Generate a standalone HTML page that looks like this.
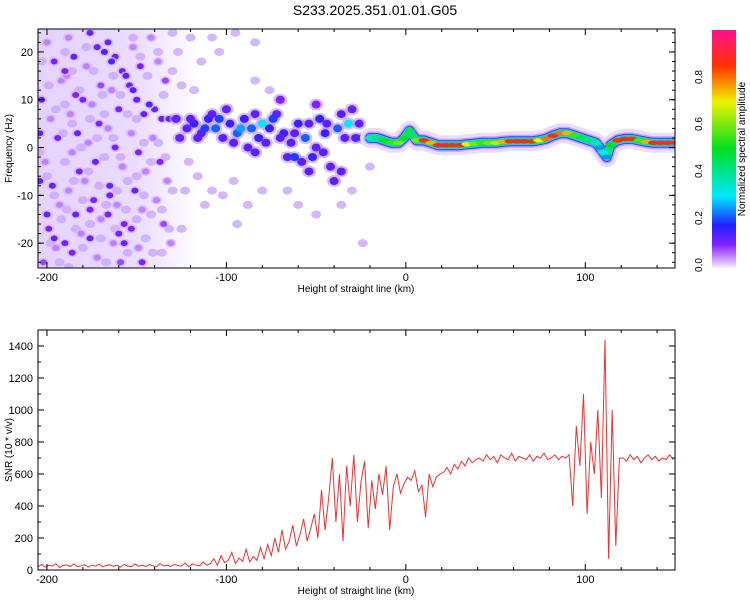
<!DOCTYPE html>
<html><head><meta charset="utf-8">
<style>
body{margin:0;background:#fff;font-family:"Liberation Sans",sans-serif;}
svg text{font-family:"Liberation Sans",sans-serif;font-size:11px;fill:#000;}
</style></head>
<body>
<svg id="chart" width="750" height="600" xmlns="http://www.w3.org/2000/svg">
<defs>
<clipPath id="c1"><rect x="38" y="29" width="637" height="239"/></clipPath>
<clipPath id="c2"><rect x="38" y="330" width="637" height="240"/></clipPath>
<linearGradient id="cbg" x1="0" y1="1" x2="0" y2="0">
<stop offset="0" stop-color="#f6eeff"/><stop offset="0.05" stop-color="#c080ff"/><stop offset="0.1" stop-color="#8020ff"/>
<stop offset="0.18" stop-color="#2020ff"/><stop offset="0.3" stop-color="#00e8ff"/><stop offset="0.5" stop-color="#00e020"/>
<stop offset="0.7" stop-color="#f0f000"/><stop offset="0.85" stop-color="#ff3000"/><stop offset="1" stop-color="#ff1090"/>
</linearGradient>
<linearGradient id="noiseg" x1="0" y1="0" x2="1" y2="0">
<stop offset="0" stop-color="#dcc4ff" stop-opacity="0.75"/><stop offset="0.6" stop-color="#dcc4ff" stop-opacity="0.6"/><stop offset="1" stop-color="#dcc4ff" stop-opacity="0"/>
</linearGradient>
</defs>
<text x="375" y="15" text-anchor="middle" style="font-size:14px">S233.2025.351.01.01.G05</text>
<g id="topPanel"></g>
<g id="botPanel"></g>
<g id="cb">
<rect x="712" y="30" width="24" height="238" fill="url(#cbg)"/>
</g>
</svg>
<script>
// ---- data ----
const snrStart = -205, snrStep = 2;
const snrValues = [20,35,18,30,25,40,15,28,32,22,38,20,26,34,18,30,24,36,20,28,33,22,30,18,35,25,20,38,24,30,22,34,26,20,40,25,30,22,35,28,24,45,20,38,30,26,50,30,
40,70,30,90,45,60,110,40,75,55,130,50,85,60,140,
70,160,90,200,110,250,130,180,280,150,220,320,180,260,350,
200,500,250,450,700,300,600,180,650,400,720,300,550,680,260,
560,380,600,470,650,250,520,600,480,540,
580,560,620,490,530,330,600,520,580,600,
610,640,600,660,630,680,650,700,670,690,
700,680,720,690,710,670,720,700,690,730,680,710,700,690,720,680,710,700,730,690,700,720,690,710,700,
720,400,900,650,1100,350,800,600,1000,450,1440,70,1000,150,700,
700,680,720,690,710,670,700,720,690,710,680,700,690,720,690];
const scatterBlobs = [
[-200,22,0.05],[-196,18,0.1],[-192,14,0.05],[-203,10,0.12],[-198,6,0.05],[-194,2,0.1],[-201,-3,0.05],[-197,-8,0.12],[-193,-12,0.05],[-199,-17,0.1],[-195,-21,0.05],[-202,-24,0.08],
[-188,23,0.05],[-185,19,0.12],[-189,15,0.05],[-184,11,0.1],[-187,7,0.05],[-183,3,0.12],[-186,-1,0.05],[-182,-5,0.1],[-188,-9,0.05],[-184,-14,0.12],[-181,-18,0.05],[-186,-22,0.1],
[-176,24,0.12],[-172,21,0.12],[-178,17,0.05],[-170,13,0.08],[-175,9,0.05],[-171,5,0.1],[-177,1,0.05],[-173,-3,0.12],[-179,-7,0.05],[-174,-11,0.1],[-170,-15,0.05],[-176,-19,0.12],[-172,-23,0.05],
[-166,22,0.12],[-162,19,0.12],[-158,16,0.12],[-164,12,0.05],[-160,8,0.1],[-166,4,0.05],[-162,0,0.1],[-158,-4,0.05],[-165,-8,0.12],[-161,-12,0.05],[-157,-16,0.1],[-163,-20,0.05],[-159,-24,0.08],
[-154,13,0.12],[-150,10,0.12],[-146,7,0.12],[-152,21,0.05],[-148,17,0.1],[-153,3,0.05],[-149,-1,0.1],[-145,-5,0.05],[-151,-9,0.12],[-147,-13,0.05],[-153,-17,0.1],[-149,-21,0.05],
[-140,8,0.12],[-136,6,0.12],[-142,23,0.05],[-138,18,0.05],[-134,14,0.08],[-141,2,0.05],[-137,-3,0.1],[-133,-7,0.05],[-139,-11,0.05],[-135,-16,0.08],[-131,-20,0.05],
[-168,20,0.14],[-164,18,0.14],[-156,15,0.13],[-152,12,0.13],[-143,9,0.14],[-132,6,0.13],[-204,3,0.12],[-204,-7,0.12],[-200,-14,0.12],[-196,-19,0.12],[-190,-20,0.11],[-166,-14,0.11],[-165,-10,0.11],
[-160,-18,0.11],[-180,10,0.1],[-157,-20,0.12],[-147,-24,0.1],[-190,16,0.1],[-176,-13,0.1]];
// faint noise blobs
const faintBlobs = [
[-203,18],[-199,13],[-195,8],[-191,3],[-204,-1],[-200,-6],[-196,-10],[-192,-15],[-198,-20],[-193,-24],[-190,20],[-186,16],[-182,12],[-190,9],[-186,5],[-181,0],[-190,-3],[-185,-7],[-180,-11],[-189,-13],[-184,-17],[-180,-21],[-188,-25],
[-178,21],[-174,16],[-169,11],[-176,6],[-172,2],[-168,-2],[-177,-5],[-171,-8],[-167,-12],[-176,-16],[-170,-19],[-167,-24],[-168,7],[-163,15],[-159,11],[-155,7],[-163,2],[-159,-2],[-155,-7],[-161,-9],[-156,-13],[-162,-17],[-155,-22],[-152,23],[-148,19],
[-144,15],[-150,6],[-146,1],[-142,-3],[-150,-6],[-146,-10],[-142,-14],[-150,-15],[-145,-19],[-141,-22],[-138,20],[-135,11],[-130,16],[-138,1],[-134,-2],[-130,-9],[-136,-13],[-132,-17],[-136,-22],[-127,20],[-125,13],[-121,-3],[-123,-9],[-125,-17],
[-118,12],[-114,18],[-116,-6],[-112,-12],[-108,-9],[-104,20],[-102,-10],[-96,-7],[-94,-16],[-88,-12],[-84,14],[-80,-9],[-76,12],[-130,24],[-120,23],[-108,23],[-95,24],[-84,22],[-60,-12],[-50,-14],[-36,-12],[-24,-20],[-30,-9],[-20,-4],[-66,-9]];
const bandBlobs = [
[-122,4,0.13],[-118,5,0.16],[-114,3,0.13],[-110,6,0.16],[-106,4,0.22],[-102,2,0.13],[-98,5,0.16],[-94,3,0.22],[-90,6,0.16],[-86,4,0.22],[-82,2,0.16],[-80,5,0.3],[-76,4,0.16],
[-72,7,0.13],[-68,3,0.16],[-64,1,0.13],[-60,5,0.16],[-56,2,0.22],[-52,-2,0.16],[-48,6,0.16],[-45,3,0.16],[-42,-4,0.13],[-40,-7,0.13],[-38,4,0.22],[-36,7,0.13],[-32,5,0.3],[-28,2,0.13],[-58,-3,0.13],[-66,-2,0.13],[-88,0,0.13],[-100,8,0.12],[-70,10,0.1],[-50,9,0.1],[-30,8,0.12],
[-120,6,0.13],[-116,2,0.13],[-112,4,0.2],[-108,7,0.13],[-104,6,0.2],[-96,1,0.13],[-92,4,0.26],[-84,7,0.13],[-78,1,0.13],[-74,6,0.2],[-70,2,0.13],[-62,3,0.13],[-54,5,0.13],[-50,0,0.13],[-46,-1,0.13],[-44,5,0.13],[-34,2,0.13],[-26,5,0.13],[-24,2,0.2],[-62,-2,0.2],[-54,-5,0.13],[-36,-5,0.13],[-128,6,0.12],[-126,2,0.12],[-84,-1,0.13]];
const lineX = [-20,-16,-12,-8,-4,-1,2,6,10,14,18,22,26,30,34,38,42,46,50,54,58,62,66,70,74,78,82,86,90,94,98,102,106,108,110,112,114,118,122,126,130,134,138,142,146,150];
const lineF = [2,2,1.5,1,1,2,3.5,1.5,1.5,1,0.5,0.5,0.5,0.5,0.7,0.8,1,1,1,1.2,1.3,1.3,1.3,1.3,1.5,1.8,2.5,3,3,2.5,2,1.5,1,0,-1,-2,0.5,1.5,1.8,1.8,1.5,1.2,1,1,1,1];
const lineA = [0.35,0.4,0.5,0.55,0.6,0.5,0.45,0.6,0.85,0.75,0.9,0.9,0.85,0.9,0.7,0.6,0.55,0.6,0.65,0.75,0.85,0.9,0.9,0.85,0.7,0.8,0.9,0.8,0.75,0.55,0.45,0.4,0.35,0.25,0.3,0.25,0.5,0.85,0.9,0.85,0.55,0.75,0.9,0.92,0.92,0.9];
const xTicks=[-200,-100,0,100], fTicks=[-20,-10,0,10,20], snrTicks=[0,200,400,600,800,1000,1200,1400], cbTicks=[0,0.2,0.4,0.6,0.8];

const X0=38,X1=675;
const sx=v=>X0+(v+205)/355*(X1-X0);
const sf=v=>29+(24.8-v)/50*239;
const ss=v=>570-v/1500*240;
const NS='http://www.w3.org/2000/svg';
function mk(tag,attrs,parent){const e=document.createElementNS(NS,tag);for(const k in attrs)e.setAttribute(k,attrs[k]);parent.appendChild(e);return e;}
const stops=[[0,[246,238,255]],[0.05,[192,128,255]],[0.1,[128,32,255]],[0.18,[32,32,255]],[0.3,[0,232,255]],[0.5,[0,224,32]],[0.7,[240,240,0]],[0.85,[255,48,0]],[1,[255,16,144]]];
function cmap(a){for(let i=1;i<stops.length;i++){if(a<=stops[i][0]){const[t0,c0]=stops[i-1],[t1,c1]=stops[i];const t=(a-t0)/(t1-t0);return 'rgb('+c0.map((c,j)=>Math.round(c+(c1[j]-c0[j])*t)).join(',')+')';}}return 'rgb(255,16,144)';}

const topG=document.getElementById('topPanel'),botG=document.getElementById('botPanel'),cbG=document.getElementById('cb');
const tg=mk('g',{'clip-path':'url(#c1)'},topG);
const bgn=mk('rect',{x:sx(-205),y:29,width:sx(-115)-sx(-205),height:239,fill:'url(#noiseg)'},tg);


faintBlobs.forEach(b=>{
  const e=mk('ellipse',{cx:sx(b[0]),cy:sf(b[1]),rx:5,ry:4,fill:'#c9a6ff',opacity:0.8},tg);
  
  
});
scatterBlobs.forEach(b=>{
  const h=mk('ellipse',{cx:sx(b[0]),cy:sf(b[1]),rx:5.5,ry:4.5,fill:'#d4b8ff',opacity:0.8},tg);
  
  
  const e=mk('ellipse',{cx:sx(b[0]),cy:sf(b[1]),rx:3.5,ry:3,fill:cmap(b[2])},tg);
  
  
});
bandBlobs.forEach(b=>{
  const h=mk('ellipse',{cx:sx(b[0]),cy:sf(b[1]),rx:7,ry:6,fill:'#b890ff',opacity:0.6},tg);
  
  
});
bandBlobs.forEach(b=>{
  const e=mk('ellipse',{cx:sx(b[0]),cy:sf(b[1]),rx:4.5,ry:4,fill:cmap(b[2])},tg);
  
  
});
// thin band layers
const lpts=lineX.map((x,i)=>sx(x).toFixed(1)+','+sf(lineF[i]).toFixed(1)).join(' ');
[[20,'#eadcff'],[13,'#c8a0ff'],[10,'#5030ff'],[8,'#00d8ff'],[6,'#10e060']].forEach(l=>{
  const p=mk('polyline',{points:lpts,fill:'none',stroke:l[1],'stroke-width':l[0],'stroke-linejoin':'round','stroke-linecap':'round'},tg);
  
  
});
lineX.forEach((x,i)=>{
  const e=mk('ellipse',{cx:sx(x),cy:sf(lineF[i]),rx:5.5,ry:2.2,fill:cmap(lineA[i])},tg);
  
  
});
const bg=mk('g',{'clip-path':'url(#c2)'},botG);
const pts=snrValues.map((v,i)=>sx(snrStart+i*snrStep).toFixed(1)+','+ss(v).toFixed(1)).join(' ');
const pl=mk('polyline',{points:pts,fill:'none',stroke:'#f03030','stroke-width':1},bg);



function frame(parent,y0,y1,yTicks,yScale,minorY,ylabel,name){
  const r=mk('rect',{x:X0,y:y0,width:X1-X0,height:y1-y0,fill:'none',stroke:'#000','stroke-width':1},parent);
  
  
  for(let v=-200;v<=140;v+=20){const x=sx(v),l=(v%100===0)?6:3;
    mk('line',{x1:x,x2:x,y1:y1,y2:y1-l,stroke:'#000'},parent);mk('line',{x1:x,x2:x,y1:y0,y2:y0+l,stroke:'#000'},parent);}
  xTicks.forEach(v=>{const t=mk('text',{x:sx(v),y:y1+13,'text-anchor':'middle'},parent);t.textContent=v;
    
    });
  const xl=mk('text',{x:356,y:y1+24,'text-anchor':'middle',style:'font-size:10px'},parent);xl.textContent='Height of straight line (km)';
  
  
  minorY.forEach(v=>{const y=yScale(v);mk('line',{x1:X0,x2:X0+3,y1:y,y2:y,stroke:'#000'},parent);mk('line',{x1:X1,x2:X1-3,y1:y,y2:y,stroke:'#000'},parent);});
  yTicks.forEach(v=>{const y=yScale(v);mk('line',{x1:X0,x2:X0+6,y1:y,y2:y,stroke:'#000'},parent);mk('line',{x1:X1,x2:X1-6,y1:y,y2:y,stroke:'#000'},parent);
    const t=mk('text',{x:X0-5,y:y+4,'text-anchor':'end'},parent);t.textContent=v;
    
    });
  const yc=(y0+y1)/2;
  const yl=mk('text',{x:12,y:yc,'text-anchor':'middle',transform:'rotate(-90 12 '+yc+')',style:'font-size:10px'},parent);yl.textContent=ylabel;
  
  
}
const minorF=[];for(let v=-24;v<=24;v+=2)minorF.push(v);
const minorS=[];for(let v=0;v<=1500;v+=100)minorS.push(v);
frame(topG,29,268,fTicks,sf,minorF,'Frequency (Hz)','spectrogram');
frame(botG,330,570,snrTicks,ss,minorS,'SNR (10 * v/v)','snr');
cbTicks.forEach(v=>{const y=265-v*235;
  const t=mk('text',{x:702,y:y,'text-anchor':'middle',transform:'rotate(-90 702 '+y+')',style:'font-size:10px'},cbG);t.textContent=v.toFixed(1);
  
  });
const cl=mk('text',{x:745,y:149,'text-anchor':'middle',transform:'rotate(-90 745 149)',style:'font-size:10px'},cbG);cl.textContent='Normalized spectral amplitude';


</script>
</body></html>
